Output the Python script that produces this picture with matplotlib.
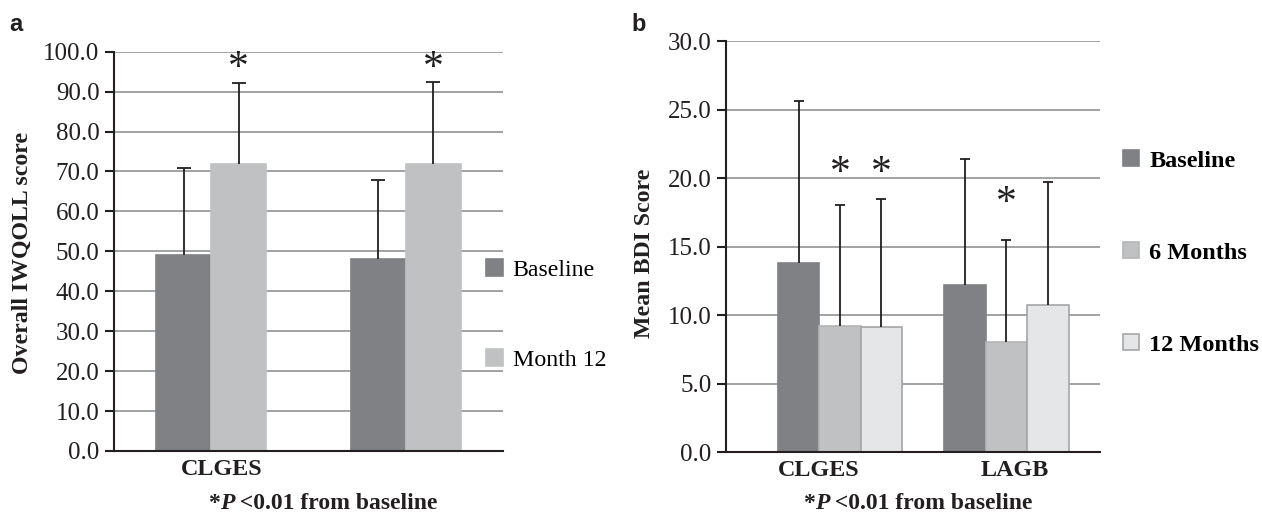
import numpy as np
import matplotlib
matplotlib.use("Agg")
import matplotlib.pyplot as plt

# panel a: IWQOLL
a_groups = ["CLGES", ""]
a_series = ["Baseline", "Month 12"]
a_means = [[49.0, 48.0], [71.8, 72.0]]
a_sd = [[21.9, 19.9], [20.4, 20.5]]
a_star = [[False, False], [True, True]]
a_star_y = 97.7

# panel b: BDI
b_groups = ["CLGES", "LAGB"]
b_series = ["Baseline", "6 Months", "12 Months"]
b_means = [[13.8, 12.2], [9.2, 8.0], [9.1, 10.7]]
b_sd = [[11.8, 9.2], [8.8, 7.5], [9.4, 9.0]]
b_star = [[False, False], [True, True], [True, False]]
b_star_y = [20.9, 18.7]

SERIF = "Liberation Serif"
plt.rcParams["font.family"] = SERIF
plt.rcParams["font.size"] = 17

colours = ["#808185", "#c0c1c3", "#e5e6e8"]
edges = ["#808185", "#b4b5b7", "#a5a6a8"]
grid_c = "#9a9b9d"
ink = "#231f20"

fig = plt.figure(figsize=(12.62, 5.13), dpi=100)
axA = fig.add_axes([0.0903, 0.1209, 0.3083, 0.7783])
axB = fig.add_axes([0.5753, 0.1189, 0.2964, 0.8011])


def style(ax, ymax, step):
    ax.set_ylim(0, ymax)
    ax.set_yticks(np.arange(0, ymax + step / 2, step))
    ax.set_yticklabels(["%.1f" % v for v in np.arange(0, ymax + step / 2, step)])
    ax.spines["top"].set_visible(False)
    ax.spines["right"].set_visible(False)
    for s in ("left", "bottom"):
        ax.spines[s].set_linewidth(1.5)
        ax.spines[s].set_color(ink)
    ax.yaxis.grid(True, color=grid_c, linewidth=1.3)
    ax.set_axisbelow(True)
    ax.tick_params(axis="y", length=6.5, width=1.5, color=ink, pad=4, labelsize=18, labelcolor=ink)
    ax.tick_params(axis="x", length=0, pad=6, labelsize=17.4, labelcolor=ink)


def bars(ax, means, sds, width, cap, cols, eds):
    n = len(means)
    x = np.arange(len(means[0]))
    handles = []
    for i in range(n):
        xs = x + (i - (n - 1) / 2) * width
        h = ax.bar(xs, means[i], width, color=cols[i], edgecolor=eds[i], linewidth=1.2, zorder=2)
        handles.append(h)
        eb = ax.errorbar(xs, means[i], yerr=[np.zeros(len(xs)), sds[i]], fmt="none",
                         ecolor=ink, elinewidth=1.3, capsize=cap, capthick=1.3, zorder=3)
        eb[1][0].set_visible(False)  # no lower cap
    return handles


def stars(ax, flags, ys, width):
    n = len(flags)
    for i in range(n):
        xs = np.arange(len(flags[0])) + (i - (n - 1) / 2) * width
        for j in range(len(xs)):
            if flags[i][j]:
                y = ys[j] if np.ndim(ys) else ys
                ax.annotate("*", (xs[j], y), xytext=(0, -5.5), textcoords="offset points",
                            ha="center", va="center", fontsize=30, color=ink)


# ---- panel a
style(axA, 100, 10)
hA = bars(axA, a_means, a_sd, 0.2835, 5, colours[:2], edges[:1] + ["#c0c1c3"])
axA.set_xlim(-0.5, 1.5)
axA.set_xticks([0.055])
axA.set_xticklabels([a_groups[0]], fontweight="bold")
stars(axA, a_star, a_star_y, 0.2835)
axA.legend(hA, a_series, loc="center left", bbox_to_anchor=(0.385, 0.386),
           bbox_transform=fig.transFigure, frameon=False, fontsize=17.2,
           handlelength=0.7, handleheight=0.7, handletextpad=0.42,
           labelspacing=2.85, borderpad=0, borderaxespad=0)

# ---- panel b
style(axB, 30, 5)
hB = bars(axB, b_means, b_sd, 0.249, 3.5, colours, edges)
axB.set_xlim(-0.685, 1.5625)
axB.set_xticks([-0.126, 1.05])
axB.set_xticklabels(b_groups, fontweight="bold")
stars(axB, b_star, b_star_y, 0.249)
axB.legend(hB, b_series, loc="center left", bbox_to_anchor=(0.890, 0.507),
           bbox_transform=fig.transFigure, frameon=False,
           prop={"weight": "bold", "size": 17.5},
           handlelength=0.65, handleheight=0.65, handletextpad=0.42,
           labelspacing=2.9, borderpad=0, borderaxespad=0)

# y labels and panel letters
fig.text(22 / 1262, 1 - 253 / 513, "Overall IWQOLL score", rotation=90, ha="center", va="center",
         fontsize=17.2, fontweight="bold", color=ink)
fig.text(645 / 1262, 1 - 253 / 513, "Mean BDI Score", rotation=90, ha="center", va="center",
         fontsize=17.2, fontweight="bold", color=ink)
fig.text(9 / 1262, 1 - 31 / 513, "a", fontsize=17, fontweight="bold", family="Liberation Sans",
         ha="left", va="baseline", color=ink)
fig.text(631 / 1262, 1 - 31 / 513, "b", fontsize=17, fontweight="bold", family="Liberation Sans",
         ha="left", va="baseline", color=ink)


# footnotes: "*P <0.01 from baseline" with bold-italic P
def footnote(xc, yb):
    fig.canvas.draw()
    r = fig.canvas.get_renderer()
    parts = [("*", "normal"), ("P", "italic"), (" <0.01 from baseline", "normal")]
    objs = [fig.text(0, yb, t, fontsize=17, fontweight="bold", style=s, va="baseline", color=ink)
            for t, s in parts]
    widths = [o.get_window_extent(r).width for o in objs]
    x = xc * fig.bbox.width - sum(widths) / 2
    for o, w in zip(objs, widths):
        o.set_x(x / fig.bbox.width)
        x += w


footnote(323 / 1262, 1 - 509 / 513)
footnote(918 / 1262, 1 - 509 / 513)

fig.savefig("out.png", dpi=100)
